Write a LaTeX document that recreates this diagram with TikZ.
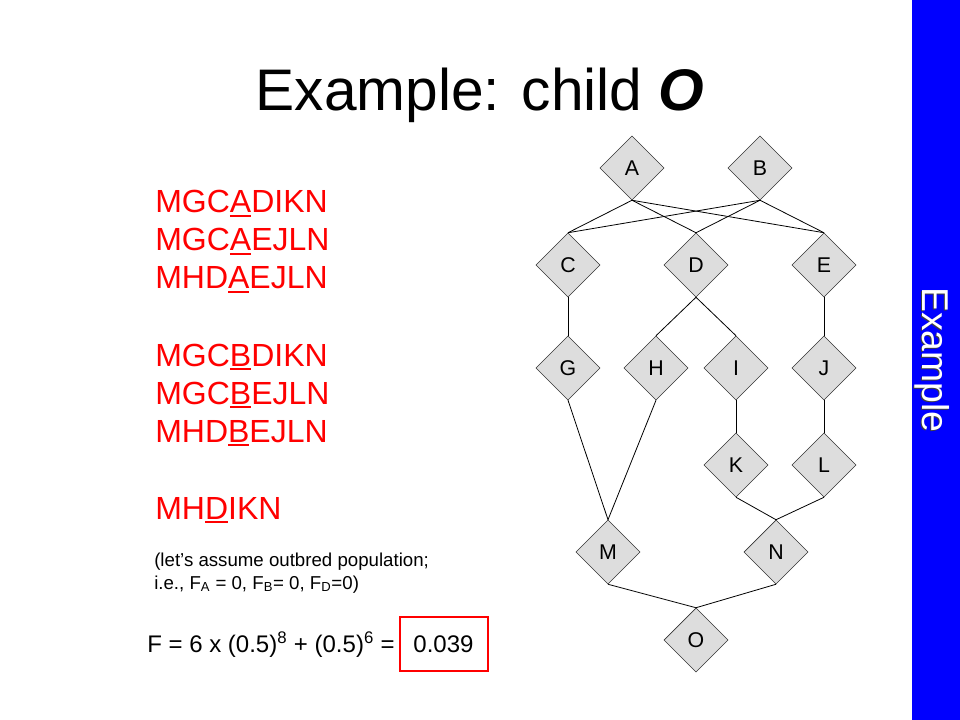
\documentclass[tikz,border=0pt]{standalone}
\usepackage{fontspec}
\setmainfont{Liberation Sans}
\usetikzlibrary{shapes.geometric}
\definecolor{nodegray}{RGB}{221,221,221}
\newcommand{\lineunder}[1]{\setbox0\hbox{#1}\rlap{\rule[-3.2pt]{\wd0}{1.6pt}}\box0}

\begin{document}
\begin{tikzpicture}[x=0.75pt,y=-0.75pt]
       \tikzstyle{person} = [diamond, aspect=1, minimum width=48pt, minimum height=48pt, inner sep=0pt, draw=black!80, fill=nodegray, font=\fontsize{16}{19}\selectfont]
       \tikzstyle{link} = [line width=0.6pt]
       \tikzstyle{route} = [red, anchor=base west, inner sep=0pt, font=\fontsize{24}{29}\selectfont]
       \tikzstyle{note} = [anchor=base west, inner sep=0pt, font=\fontsize{14}{17}\selectfont]
       \useasboundingbox (0,0) rectangle (960,720);
       \fill[blue] (912,0) rectangle (960,720);
       \node (tab-shadow) [rotate=-90, black!75, font=\fontsize{28}{34}\selectfont] at (931,361) {Example};
       \node (tab) [rotate=-90, white, font=\fontsize{28}{34}\selectfont] at (932,360) {Example};
       \node (title) [anchor=base, inner sep=0pt, font=\fontsize{44}{53}\selectfont] at (480,111) {Example: child \textbf{\textit{O}}};

        % pedigree
        \foreach \who/\x/\y in {A/632/168, B/760/168, C/568/265, D/696/265, E/824/265,
                                G/568/368, H/656/368, I/736/368, J/824/368,
                                K/736/465, L/824/465, M/608/552, N/776/552, O/696/640}
        {
          \node (\who) [person] at (\x,\y) {\who};
        }
        \foreach \up/\down in {A/C, A/D, A/E, B/C, B/D, B/E, C/G, D/H, D/I, E/J,
                               G/M, H/M, I/K, J/L, K/N, L/N, M/O, N/O}
        {
          \draw [link] (\up.south) -- (\down.north);
        }

        % paths through the common ancestors
        \node (path-A1) [route] at (155,213) {MGC\lineunder{A}DIKN};
        \node (path-A2) [route] at (155,251) {MGC\lineunder{A}EJLN};
        \node (path-A3) [route] at (155,289) {MHD\lineunder{A}EJLN};
        \node (path-B1) [route] at (155,366) {MGC\lineunder{B}DIKN};
        \node (path-B2) [route] at (155,404) {MGC\lineunder{B}EJLN};
        \node (path-B3) [route] at (155,442) {MHD\lineunder{B}EJLN};
        \node (path-D1) [route] at (155,519) {MH\lineunder{D}IKN};

        \node (assume-1) [note] at (154,566) {(let’s assume outbred population;};
        \node (assume-2) [note] at (154,589) {i.e., F\textsubscript{A} = 0, F\textsubscript{B}= 0, F\textsubscript{D}=0)};

        \node (formula) [anchor=base west, inner sep=0pt, font=\fontsize{18}{22}\selectfont] at (147,652) {F = 6 x (0.5)\textsuperscript{8} + (0.5)\textsuperscript{6} =};
        \node (result) [draw=red, line width=1.5pt, minimum width=66pt, minimum height=41pt, font=\fontsize{18}{22}\selectfont] at (443.5,644) {0.039};

   \end{tikzpicture}
\end{document}
